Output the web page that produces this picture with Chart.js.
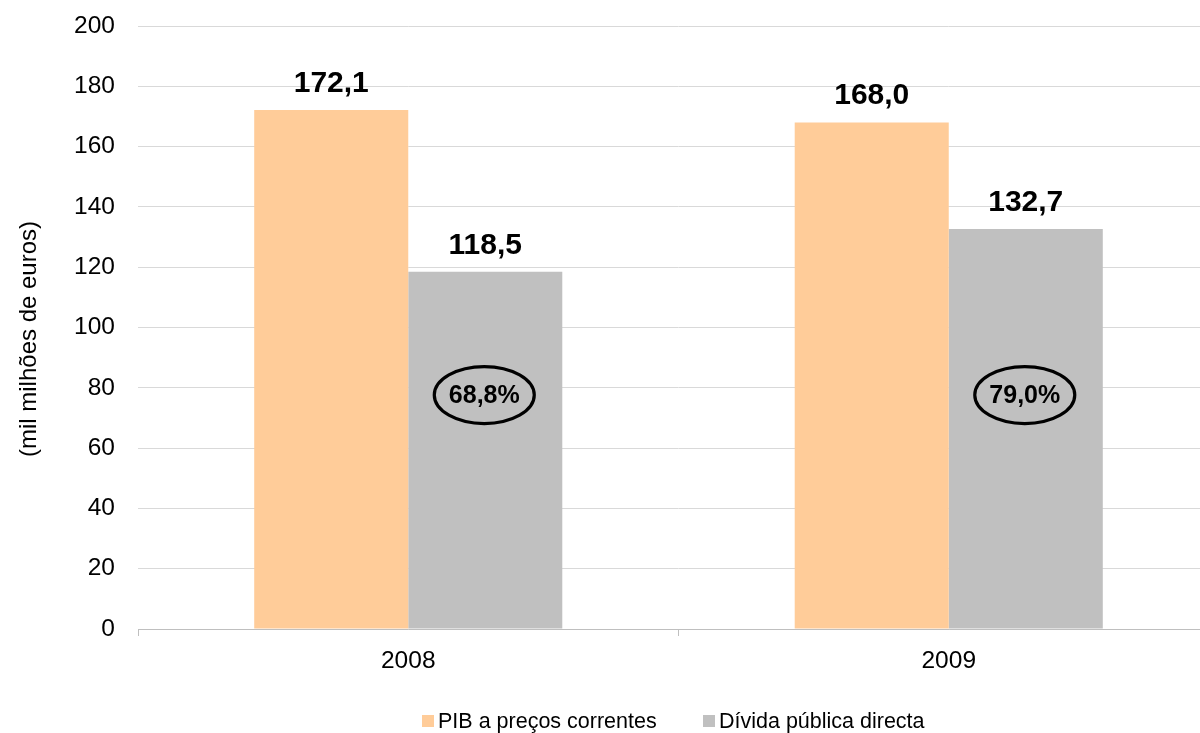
<!DOCTYPE html>
<html>
<head>
<meta charset="utf-8">
<script src="https://cdn.jsdelivr.net/npm/chart.js@4/dist/chart.umd.min.js"></script>
<style>
  html, body { margin: 0; padding: 0; background: #fff; overflow: hidden; width: 1200px; height: 733px; }
  #wrap { position: absolute; left: 0; top: 0; width: 1220px; height: 733px; }
  #legend { position: absolute; top: 709px; left: 0; font-family: "Liberation Sans", Arial, sans-serif; font-size: 21.5px; color: #000; }
  .item { position: absolute; white-space: nowrap; line-height: 24px; }
  .box { position: absolute; width: 12px; height: 12px; top: 6px; }
</style>
</head>
<body>
<div id="wrap"><canvas id="c" width="1220" height="733"></canvas></div>
<div id="legend"></div>
<script>
const categories = ['2008', '2009'];
const seriesNames = ['PIB a preços correntes', 'Dívida pública directa'];
const pibValues = [172.1, 168.0];
const dividaValues = [118.5, 132.7];
const ratioValues = [68.8, 79.0];
const yTicks = [0, 20, 40, 60, 80, 100, 120, 140, 160, 180, 200];
const yTitle = '(mil milhões de euros)';
const colors = ['#FFCC99', '#C0C0C0'];

const fmt = (v, d) => v.toFixed(d).replace('.', ',');
const FONT = '"Liberation Sans", Arial, sans-serif';

const labelsPlugin = {
  id: 'labelsPlugin',
  afterDatasetsDraw(chart) {
    const ctx = chart.ctx;
    ctx.save();
    ctx.fillStyle = '#000';
    ctx.textAlign = 'center';
    ctx.textBaseline = 'alphabetic';
    ctx.font = 'bold 30px ' + FONT;
    chart.data.datasets.forEach((ds, di) => {
      chart.getDatasetMeta(di).data.forEach((bar, i) => {
        ctx.fillText(fmt(ds.data[i], 1), bar.x, bar.y - 18);
      });
    });
    // ratio ellipses inside the debt bars
    const meta = chart.getDatasetMeta(1);
    const yPix = chart.scales.y.getPixelForValue(77.6);
    meta.data.forEach((bar, i) => {
      const cx = bar.x - 1;
      ctx.beginPath();
      ctx.ellipse(cx, yPix, 50, 28.5, 0, 0, Math.PI * 2);
      ctx.lineWidth = 3.2;
      ctx.strokeStyle = '#000';
      ctx.stroke();
      ctx.font = 'bold 25px ' + FONT;
      ctx.textBaseline = 'middle';
      ctx.fillText(fmt(ratioValues[i], 1) + '%', cx, yPix + 1);
    });
    // y-axis title
    ctx.translate(29, 339);
    ctx.rotate(-Math.PI / 2);
    ctx.font = '24px ' + FONT;
    ctx.textBaseline = 'middle';
    ctx.fillText(yTitle, 0, 0);
    ctx.restore();
  }
};

new Chart(document.getElementById('c'), {
  type: 'bar',
  data: {
    labels: categories,
    datasets: [
      { label: seriesNames[0], data: pibValues, backgroundColor: colors[0], borderWidth: 0, barPercentage: 1, categoryPercentage: 0.57 },
      { label: seriesNames[1], data: dividaValues, backgroundColor: colors[1], borderWidth: 0, barPercentage: 1, categoryPercentage: 0.57 }
    ]
  },
  options: {
    responsive: false,
    animation: false,
    layout: { padding: { left: 0, right: 1, top: 26, bottom: 0 } },
    plugins: { legend: { display: false }, tooltip: { enabled: false } },
    scales: {
      x: {
        grid: { offset: true, drawOnChartArea: false, drawTicks: true, tickLength: 7, color: '#BFBFBF', lineWidth: 1 },
        border: { display: true, color: '#BFBFBF', width: 1 },
        ticks: { color: '#000', font: { family: FONT, size: 24.5 }, padding: 11 },
        afterFit(s) { s.height = 104; s.paddingLeft = 0; s.paddingRight = 0; }
      },
      y: {
        min: 0, max: 200,
        afterBuildTicks(s) { s.ticks = yTicks.map(v => ({ value: v })); },
        grid: { color: '#D9D9D9', drawTicks: false, lineWidth: 1 },
        border: { display: false },
        ticks: { color: '#000', font: { family: FONT, size: 24.5 }, padding: 23 },
        afterFit(s) { s.width = 138; s.paddingTop = 0; s.paddingBottom = 0; }
      }
    }
  },
  plugins: [labelsPlugin]
});

// HTML legend
const legend = document.getElementById('legend');
const legendX = [422, 703];
seriesNames.forEach((name, i) => {
  const it = document.createElement('div');
  it.className = 'item';
  it.style.left = legendX[i] + 'px';
  it.innerHTML = '<span class="box" style="left:0;background:' + colors[i] + '"></span><span style="margin-left:16px">' + name + '</span>';
  legend.appendChild(it);
});
</script>
</body>
</html>
